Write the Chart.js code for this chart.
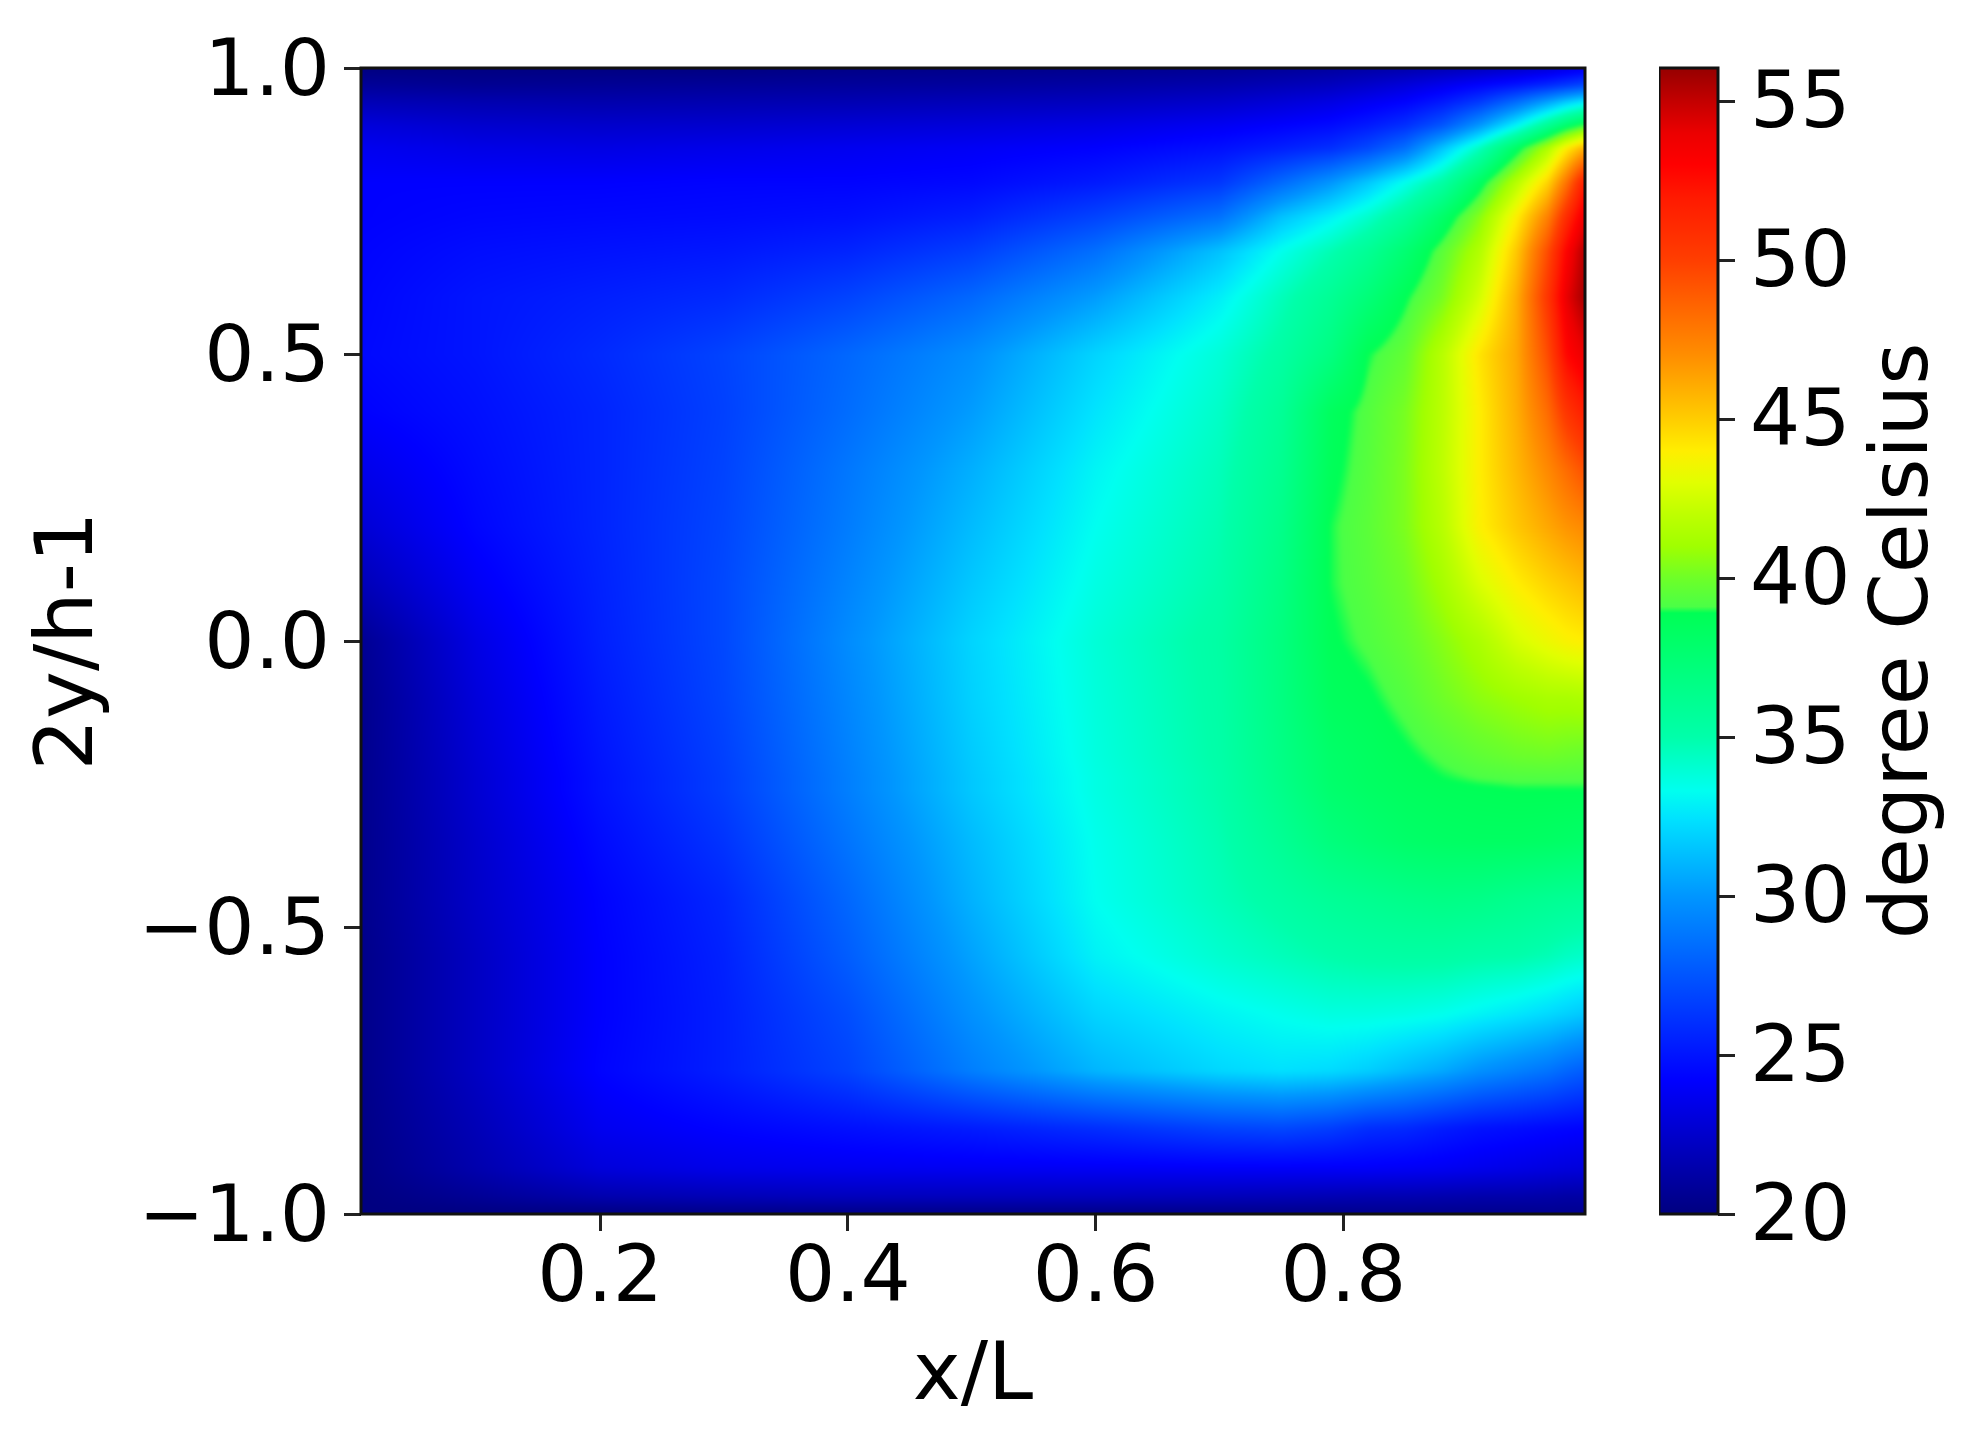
<!DOCTYPE html>
<html>
<head>
<meta charset="utf-8">
<title>Temperature field</title>
<script src="https://cdn.jsdelivr.net/npm/chart.js@4"></script>
<style>
  html, body { margin: 0; background: #fff; }
  #wrap { position: relative; width: 1974px; height: 1450px; }
  canvas { position: absolute; top: 0; }
</style>
</head>
<body>
<div id="wrap">
  <canvas id="field" width="1974" height="1450" style="left:0"></canvas>
  <canvas id="cbar" width="315" height="1450" style="left:1659px"></canvas>
</div>
<script>
// Axis ticks and labels
const xTicks = [0.2, 0.4, 0.6, 0.8];
const yTicks = [-1, -0.5, 0, 0.5, 1];
const cbarTicks = [20, 25, 30, 35, 40, 45, 50, 55];
const xTitle = 'x/L';
const yTitle = '2y/h-1';
const cbarTitle = 'degree Celsius';

const xNodes = [0.007, 0.1, 0.2, 0.3, 0.4, 0.5, 0.6, 0.7, 0.75, 0.79, 0.82, 0.85, 0.88, 0.91, 0.94, 0.965, 0.98, 0.995];
const yNodes = [1, 0.97, 0.94, 0.9, 0.86, 0.8, 0.74, 0.68, 0.6, 0.5, 0.4, 0.3, 0.2, 0.1, 0, -0.1, -0.2, -0.24, -0.26, -0.35, -0.45, -0.55, -0.65, -0.75, -0.85, -0.92, -0.97, -1];

// Temperature in degree Celsius, one line per entry of yNodes
const tempRows = [
  [20, 20, 20, 20, 20.2, 20.3, 20.4, 20.6, 20.8, 21, 21.2, 21.4, 21.7, 22, 22.4, 22.8, 23.2, 23.6],
  [20.8, 20.6, 20.7, 20.8, 20.9, 21, 21.2, 21.5, 21.8, 22.1, 22.5, 23, 23.6, 24.3, 25, 25.8, 26.4, 27],
  [21.8, 21.6, 21.5, 21.6, 21.7, 21.9, 22.1, 22.5, 22.9, 23.3, 23.8, 24.3, 25.2, 26.5, 28.5, 30.5, 31.8, 32.8],
  [23, 22.6, 22.5, 22.6, 22.8, 23, 23.3, 23.8, 24.2, 24.6, 25.2, 26, 27.5, 30, 33, 36, 37.8, 39.2],
  [23.7, 23.4, 23.3, 23.5, 23.7, 23.9, 24.2, 24.8, 25.4, 26, 27, 28.5, 31.5, 34.5, 38.3, 41.5, 44, 46],
  [24.2, 24.2, 24.2, 24.3, 24.3, 24.5, 25.2, 26.3, 28.3, 30, 31.6, 33.4, 35.3, 38.3, 41.8, 44.8, 48, 52],
  [24.2, 24.4, 24.5, 24.6, 24.8, 25.4, 26.8, 28.6, 31.4, 32.9, 34.2, 35.8, 38, 40.5, 44, 47.5, 51, 54],
  [24.3, 24.7, 24.9, 25.1, 25.6, 26.6, 28.5, 31.4, 33.4, 34.8, 36, 37.6, 39.5, 41.6, 45.2, 49.5, 53, 55.5],
  [24.4, 25, 25.4, 25.8, 26.8, 28.2, 30.2, 32.8, 34.6, 36, 37.3, 38.8, 40.2, 42.6, 46, 50.5, 54, 55.8],
  [24.5, 25, 25.8, 26.8, 28.2, 29.7, 32, 33.9, 35.3, 36.9, 38.9, 39.7, 41.8, 44.3, 46.2, 49.5, 52.8, 54],
  [24.2, 24.8, 25.6, 26.7, 28.4, 30.2, 32.5, 34.3, 35.9, 38.5, 39.3, 40.2, 41.9, 44, 46, 48.3, 50.5, 51.8],
  [23.5, 24.6, 25.6, 26.8, 28.8, 30.8, 33, 34.6, 36.2, 38.7, 39.4, 40.3, 42, 44, 45.7, 47.2, 48.3, 49.4],
  [22.8, 24.4, 25.6, 26.9, 29, 31.2, 33.3, 34.8, 36.5, 38.95, 39.5, 40.3, 41.8, 43.9, 45.2, 46.2, 46.8, 47.2],
  [21.8, 23.9, 25.5, 27, 29.3, 31.6, 33.6, 35, 36.8, 38.95, 39.4, 40, 41.2, 42.8, 44, 44.8, 45.2, 45.6],
  [20.6, 23.3, 25.4, 27, 29.6, 32, 33.9, 35.3, 37, 38.8, 39.2, 39.7, 40.5, 41.4, 42.7, 43.4, 43.8, 44],
  [20.4, 23, 25.2, 26.9, 29.4, 31.9, 33.8, 35.2, 36.9, 38.5, 38.8, 39.3, 40, 40.6, 41, 41.3, 41.3, 41.4],
  [20.4, 22.8, 25, 26.7, 29.2, 31.7, 33.7, 35.1, 36.7, 38, 38.4, 38.8, 39.2, 39.6, 39.9, 40, 39.9, 39.8],
  [20.4, 22.7, 24.9, 26.6, 29.1, 31.6, 33.6, 35, 36.6, 37.9, 38.3, 38.6, 38.9, 39.1, 39.2, 39.2, 39.2, 39.2],
  [20.4, 22.7, 24.9, 26.6, 29.1, 31.6, 33.6, 35, 36.5, 37.8, 38.2, 38.5, 38.7, 38.8, 38.9, 38.9, 38.9, 38.9],
  [20.4, 22.5, 24.6, 26.2, 28.7, 31.2, 33.4, 34.8, 36, 37.1, 37.6, 38, 38.2, 38.3, 38.3, 38.2, 38.1, 38],
  [20.4, 22.4, 24.3, 25.7, 28.2, 30.9, 33.3, 34.6, 35.3, 35.9, 36.2, 36.5, 36.7, 36.6, 36.3, 36.1, 36, 35.9],
  [20.3, 22.2, 24.2, 25.5, 27.8, 30.4, 32.9, 34.1, 34.6, 35, 35.2, 35.3, 35.3, 35.1, 35, 34.7, 34.4, 34.2],
  [20.3, 22.2, 24.2, 25.4, 27.2, 29.8, 32, 33, 33.4, 33.7, 33.7, 33.6, 33.4, 33, 32.6, 32.2, 31.9, 31.6],
  [20.3, 22.2, 24.3, 25.4, 26.8, 29.1, 31, 32.1, 32.4, 32.2, 31.8, 31.2, 30.6, 29.8, 29.2, 28.7, 28.2, 27.8],
  [20.2, 21.8, 23.7, 24.3, 24.8, 25.3, 26, 26.8, 27, 26.6, 26, 25.8, 25.3, 24.9, 24.7, 24.5, 24.4, 24.3],
  [20.1, 21.5, 23, 23.5, 23.7, 23.8, 23.9, 24, 24, 24, 24, 23.9, 23.8, 23.6, 23.4, 23.2, 23.1, 23],
  [20, 20.7, 21.5, 21.8, 22, 22, 22, 21.9, 21.8, 21.7, 21.6, 21.6, 21.5, 21.4, 21.4, 21.3, 21.2, 21.2],
  [20, 20, 20, 20.2, 20.2, 20.2, 20.2, 20.3, 20.3, 20.3, 20.4, 20.4, 20.4, 20.4, 20.4, 20.5, 20.5, 20.5]
];

// Colour map (note the step just above 39)
const cmapValues = [20, 24.2, 25, 30, 32.4, 33.3, 35, 38.9, 39.1, 40, 41, 42, 43, 44, 45, 47, 50, 52, 53, 54, 55, 56.04];
const cmapReds = [0, 0, 0, 0, 0, 0, 0, 0, 75, 110, 160, 190, 225, 255, 255, 255, 255, 255, 255, 235, 195, 150];
const cmapGreens = [0, 0, 20, 150, 225, 255, 255, 255, 255, 255, 255, 255, 255, 238, 205, 142, 62, 25, 0, 0, 0, 0];
const cmapBlues = [128, 255, 255, 255, 255, 240, 170, 85, 70, 40, 0, 0, 0, 0, 0, 0, 0, 0, 0, 0, 0, 0];

const FAMILY = "'DejaVu Sans'";
const TICK_FONT = { family: FAMILY, size: 79, lineHeight: 1 };
const TITLE_FONT = { family: FAMILY, size: 81, lineHeight: 1 };

Chart.defaults.font.family = FAMILY;
Chart.defaults.color = '#000';

function findSpan(nodes, v, descending) {
  let i = 0;
  while (i < nodes.length - 2 && (descending ? v < nodes[i + 1] : v > nodes[i + 1])) i++;
  return i;
}

function colourFor(v) {
  const i = findSpan(cmapValues, v, false);
  let t = (v - cmapValues[i]) / (cmapValues[i + 1] - cmapValues[i]);
  t = Math.max(0, Math.min(1, t));
  return [
    cmapReds[i] + (cmapReds[i + 1] - cmapReds[i]) * t,
    cmapGreens[i] + (cmapGreens[i + 1] - cmapGreens[i]) * t,
    cmapBlues[i] + (cmapBlues[i + 1] - cmapBlues[i]) * t
  ];
}

function tempAt(x, y) {
  const c = findSpan(xNodes, x, false);
  const r = findSpan(yNodes, y, true);
  const tx = Math.max(0, Math.min(1, (x - xNodes[c]) / (xNodes[c + 1] - xNodes[c])));
  const ty = Math.max(0, Math.min(1, (y - yNodes[r]) / (yNodes[r + 1] - yNodes[r])));
  const top = tempRows[r][c] * (1 - tx) + tempRows[r][c + 1] * tx;
  const bottom = tempRows[r + 1][c] * (1 - tx) + tempRows[r + 1][c + 1] * tx;
  return top * (1 - ty) + bottom * ty;
}

// Paints the temperature grid into the plot area, going through the chart's scales
const heatPlugin = {
  id: 'heat',
  beforeDatasetsDraw(chart) {
    const { ctx, chartArea, scales } = chart;
    const left = Math.round(chartArea.left);
    const top = Math.round(chartArea.top);
    const w = Math.round(chartArea.right - chartArea.left);
    const h = Math.round(chartArea.bottom - chartArea.top);
    const off = document.createElement('canvas');
    off.width = w;
    off.height = h;
    const offCtx = off.getContext('2d');
    const img = offCtx.createImageData(w, h);
    for (let j = 0; j < h; j++) {
      const yVal = scales.y.getValueForPixel(top + j + 0.5);
      for (let i = 0; i < w; i++) {
        const xVal = scales.x.getValueForPixel(left + i + 0.5);
        const col = colourFor(tempAt(xVal, yVal));
        const k = (j * w + i) * 4;
        img.data[k] = col[0];
        img.data[k + 1] = col[1];
        img.data[k + 2] = col[2];
        img.data[k + 3] = 255;
      }
    }
    offCtx.putImageData(img, 0, 0);
    ctx.save();
    ctx.beginPath();
    ctx.rect(left, top, w, h);
    ctx.clip();
    ctx.drawImage(off, left, top);
    // a touch of softness, the reference is a resampled image
    ctx.filter = 'blur(2px)';
    ctx.drawImage(off, left, top);
    ctx.restore();
  }
};

const framePlugin = {
  id: 'frame',
  afterDatasetsDraw(chart) {
    const { ctx, chartArea } = chart;
    ctx.save();
    ctx.strokeStyle = '#111';
    ctx.lineWidth = 3;
    ctx.strokeRect(chartArea.left, chartArea.top, chartArea.right - chartArea.left, chartArea.bottom - chartArea.top);
    ctx.restore();
  }
};

// Chart.js turns a right axis title the other way, so this one is drawn by hand
const cbarTitlePlugin = {
  id: 'cbarTitle',
  afterDraw(chart) {
    const { ctx, chartArea } = chart;
    ctx.save();
    ctx.translate(247, (chartArea.top + chartArea.bottom) / 2);
    ctx.rotate(-Math.PI / 2);
    ctx.font = TITLE_FONT.size + 'px ' + FAMILY;
    ctx.fillStyle = '#000';
    ctx.textAlign = 'center';
    ctx.textBaseline = 'middle';
    ctx.fillText(cbarTitle, 0, 0);
    ctx.restore();
  }
};

const tickGrid = { drawOnChartArea: false, drawTicks: true, tickLength: 17, tickWidth: 3, tickColor: '#222' };
const fixedTicks = list => scale => { scale.ticks = list.map(v => ({ value: v })); };
const tickText = v => v.toFixed(1).replace('-', '\u2212');

// The grid nodes as the dataset behind the picture
const fieldPoints = [];
yNodes.forEach((y, r) => xNodes.forEach((x, c) => fieldPoints.push({ x: x, y: y, v: tempRows[r][c] })));

new Chart(document.getElementById('field'), {
  type: 'scatter',
  data: { datasets: [{ label: 'Temperature', data: fieldPoints, pointRadius: 0, pointHoverRadius: 0 }] },
  options: {
    responsive: false,
    animation: false,
    layout: { padding: { top: 68, right: 389, left: 0, bottom: 0 } },
    plugins: { legend: { display: false }, tooltip: { enabled: false } },
    scales: {
      x: {
        type: 'linear',
        min: 0.007,
        max: 0.995,
        grid: tickGrid,
        border: { display: false },
        afterBuildTicks: fixedTicks(xTicks),
        afterFit: s => { s.height = 236; },
        ticks: { font: TICK_FONT, padding: 10, maxRotation: 0, autoSkip: false, callback: tickText },
        title: { display: true, text: xTitle, font: TITLE_FONT, padding: { top: 0, bottom: 32 } }
      },
      y: {
        type: 'linear',
        min: -1,
        max: 1,
        grid: tickGrid,
        border: { display: false },
        afterBuildTicks: fixedTicks(yTicks),
        afterFit: s => { s.width = 361; },
        ticks: { font: TICK_FONT, padding: 14, labelOffset: 6, autoSkip: false, callback: tickText },
        title: { display: true, text: yTitle, font: TITLE_FONT, padding: { top: 30, bottom: 0 } }
      }
    }
  },
  plugins: [heatPlugin, framePlugin]
});

// Colour bar: one floating bar filled with the colour map, stops placed by its own scale
function cbarFill(context) {
  const { chartArea, scales } = context.chart;
  if (!chartArea) return '#000';
  const min = cmapValues[0];
  const max = cmapValues[cmapValues.length - 1];
  const g = context.chart.ctx.createLinearGradient(0, scales.y.getPixelForValue(min), 0, scales.y.getPixelForValue(max));
  cmapValues.forEach((v, i) => {
    g.addColorStop((v - min) / (max - min), `rgb(${cmapReds[i]},${cmapGreens[i]},${cmapBlues[i]})`);
  });
  return g;
}

new Chart(document.getElementById('cbar'), {
  type: 'bar',
  data: {
    labels: [cbarTitle],
    datasets: [{
      label: cbarTitle,
      data: [[cmapValues[0], cmapValues[cmapValues.length - 1]]],
      backgroundColor: cbarFill,
      borderWidth: 0,
      barPercentage: 1,
      categoryPercentage: 1
    }]
  },
  options: {
    responsive: false,
    animation: false,
    layout: { padding: { top: 68, bottom: 236, left: 0, right: 0 } },
    plugins: { legend: { display: false }, tooltip: { enabled: false } },
    scales: {
      x: { display: false },
      y: {
        position: 'right',
        min: cmapValues[0],
        max: cmapValues[cmapValues.length - 1],
        grid: tickGrid,
        border: { display: false },
        afterBuildTicks: fixedTicks(cbarTicks),
        afterFit: s => { s.width = 256; },
        ticks: { font: TICK_FONT, padding: 15, labelOffset: 5, autoSkip: false, callback: v => String(v) }
      }
    }
  },
  plugins: [framePlugin, cbarTitlePlugin]
});
</script>
</body>
</html>
